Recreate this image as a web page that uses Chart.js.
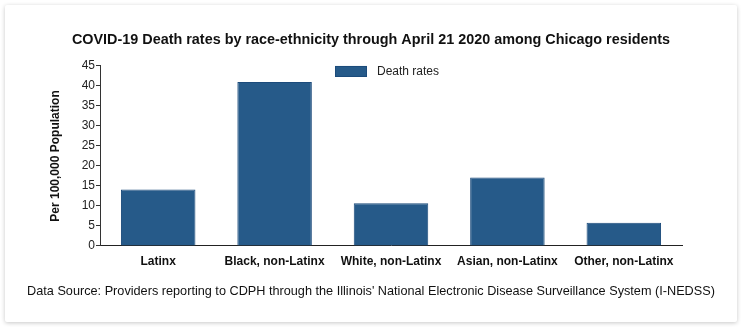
<!DOCTYPE html>
<html>
<head>
<meta charset="utf-8">
<script src="https://cdn.jsdelivr.net/npm/chart.js@4"></script>
<style>
  html, body { margin: 0; padding: 0; background: #fff; }
  .card {
    position: absolute; left: 5px; top: 5px; width: 732px; height: 317px;
    background: #fff; border-radius: 2px;
    box-shadow: 0 1px 4px rgba(0, 0, 0, 0.22);
  }
  canvas { display: block; }
</style>
</head>
<body>
<div class="card"><canvas id="deathChart" width="732" height="317"></canvas></div>
<script>
const categories = ['Latinx', 'Black, non-Latinx', 'White, non-Latinx', 'Asian, non-Latinx', 'Other, non-Latinx'];
const deathRates = [14.1, 41, 10.7, 17.1, 5.8];
const yTicks = [0, 5, 10, 15, 20, 25, 30, 35, 40, 45];
const seriesName = 'Death rates';

const font = 'Arial, "Liberation Sans", sans-serif';
const barFill = '#265a89';
const barEdge = '#1c4b7b';

// legend sits inside the plot, just above the bars
const legendInPlot = {
  id: 'legendInPlot',
  afterDraw(chart) {
    const { ctx, chartArea } = chart;
    const mid = (chartArea.left + chartArea.right) / 2;
    const x = mid - 56, y = chartArea.top;
    ctx.save();
    ctx.fillStyle = barFill;
    ctx.strokeStyle = barEdge;
    ctx.lineWidth = 1;
    ctx.fillRect(x, y, 32, 11);
    ctx.strokeRect(x + 0.5, y + 0.5, 31, 10);
    ctx.fillStyle = '#222';
    ctx.font = '12px ' + font;
    ctx.textBaseline = 'middle';
    ctx.fillText(seriesName, x + 42, y + 6);
    ctx.restore();
  }
};

new Chart(document.getElementById('deathChart'), {
  type: 'bar',
  data: {
    labels: categories,
    datasets: [{
      label: seriesName,
      data: deathRates,
      backgroundColor: barFill,
      borderColor: barEdge,
      borderWidth: 1,
      barPercentage: 0.64,
      categoryPercentage: 1
    }]
  },
  plugins: [legendInPlot],
  options: {
    responsive: false,
    animation: false,
    layout: { padding: 0 },
    plugins: {
      title: {
        display: true,
        text: 'COVID-19 Death rates by race-ethnicity through April 21 2020 among Chicago residents',
        color: '#111',
        font: { family: font, size: 14.4, weight: 'bold' },
        padding: { top: 26.4, bottom: 17.3 }
      },
      subtitle: {
        display: true,
        position: 'bottom',
        text: "Data Source: Providers reporting to CDPH through the Illinois' National Electronic Disease Surveillance System (I-NEDSS)",
        color: '#111',
        font: { family: font, size: 12.7 },
        padding: { top: 8.4, bottom: 22.4 }
      },
      legend: { display: false },
      tooltip: { enabled: false }
    },
    scales: {
      x: {
        grid: { display: false, drawTicks: false },
        border: { display: true, color: '#222', width: 1 },
        ticks: {
          color: '#111',
          padding: 9,
          font: { family: font, size: 12, weight: 'bold' }
        },
        afterFit: (scale) => { scale.height = 30; }
      },
      y: {
        min: 0,
        max: 45,
        afterBuildTicks: (scale) => { scale.ticks = yTicks.map(v => ({ value: v })); },
        grid: { drawOnChartArea: false, drawTicks: true, tickLength: 4, color: '#333' },
        border: { display: true, color: '#333', width: 1 },
        ticks: {
          color: '#222',
          padding: 1,
          font: { family: font, size: 12 }
        },
        title: {
          display: true,
          text: 'Per 100,000 Population',
          color: '#111',
          font: { family: font, size: 12, weight: 'bold' },
          padding: { top: 43, bottom: 0 }
        },
        afterFit: (scale) => { scale.width = 95; }
      },
      // empty right-hand axis, only reserves the margin
      yRight: {
        position: 'right',
        min: 0,
        max: 45,
        grid: { display: false },
        border: { display: false },
        ticks: { display: false },
        afterFit: (scale) => { scale.width = 55; }
      }
    }
  }
});
</script>
</body>
</html>
